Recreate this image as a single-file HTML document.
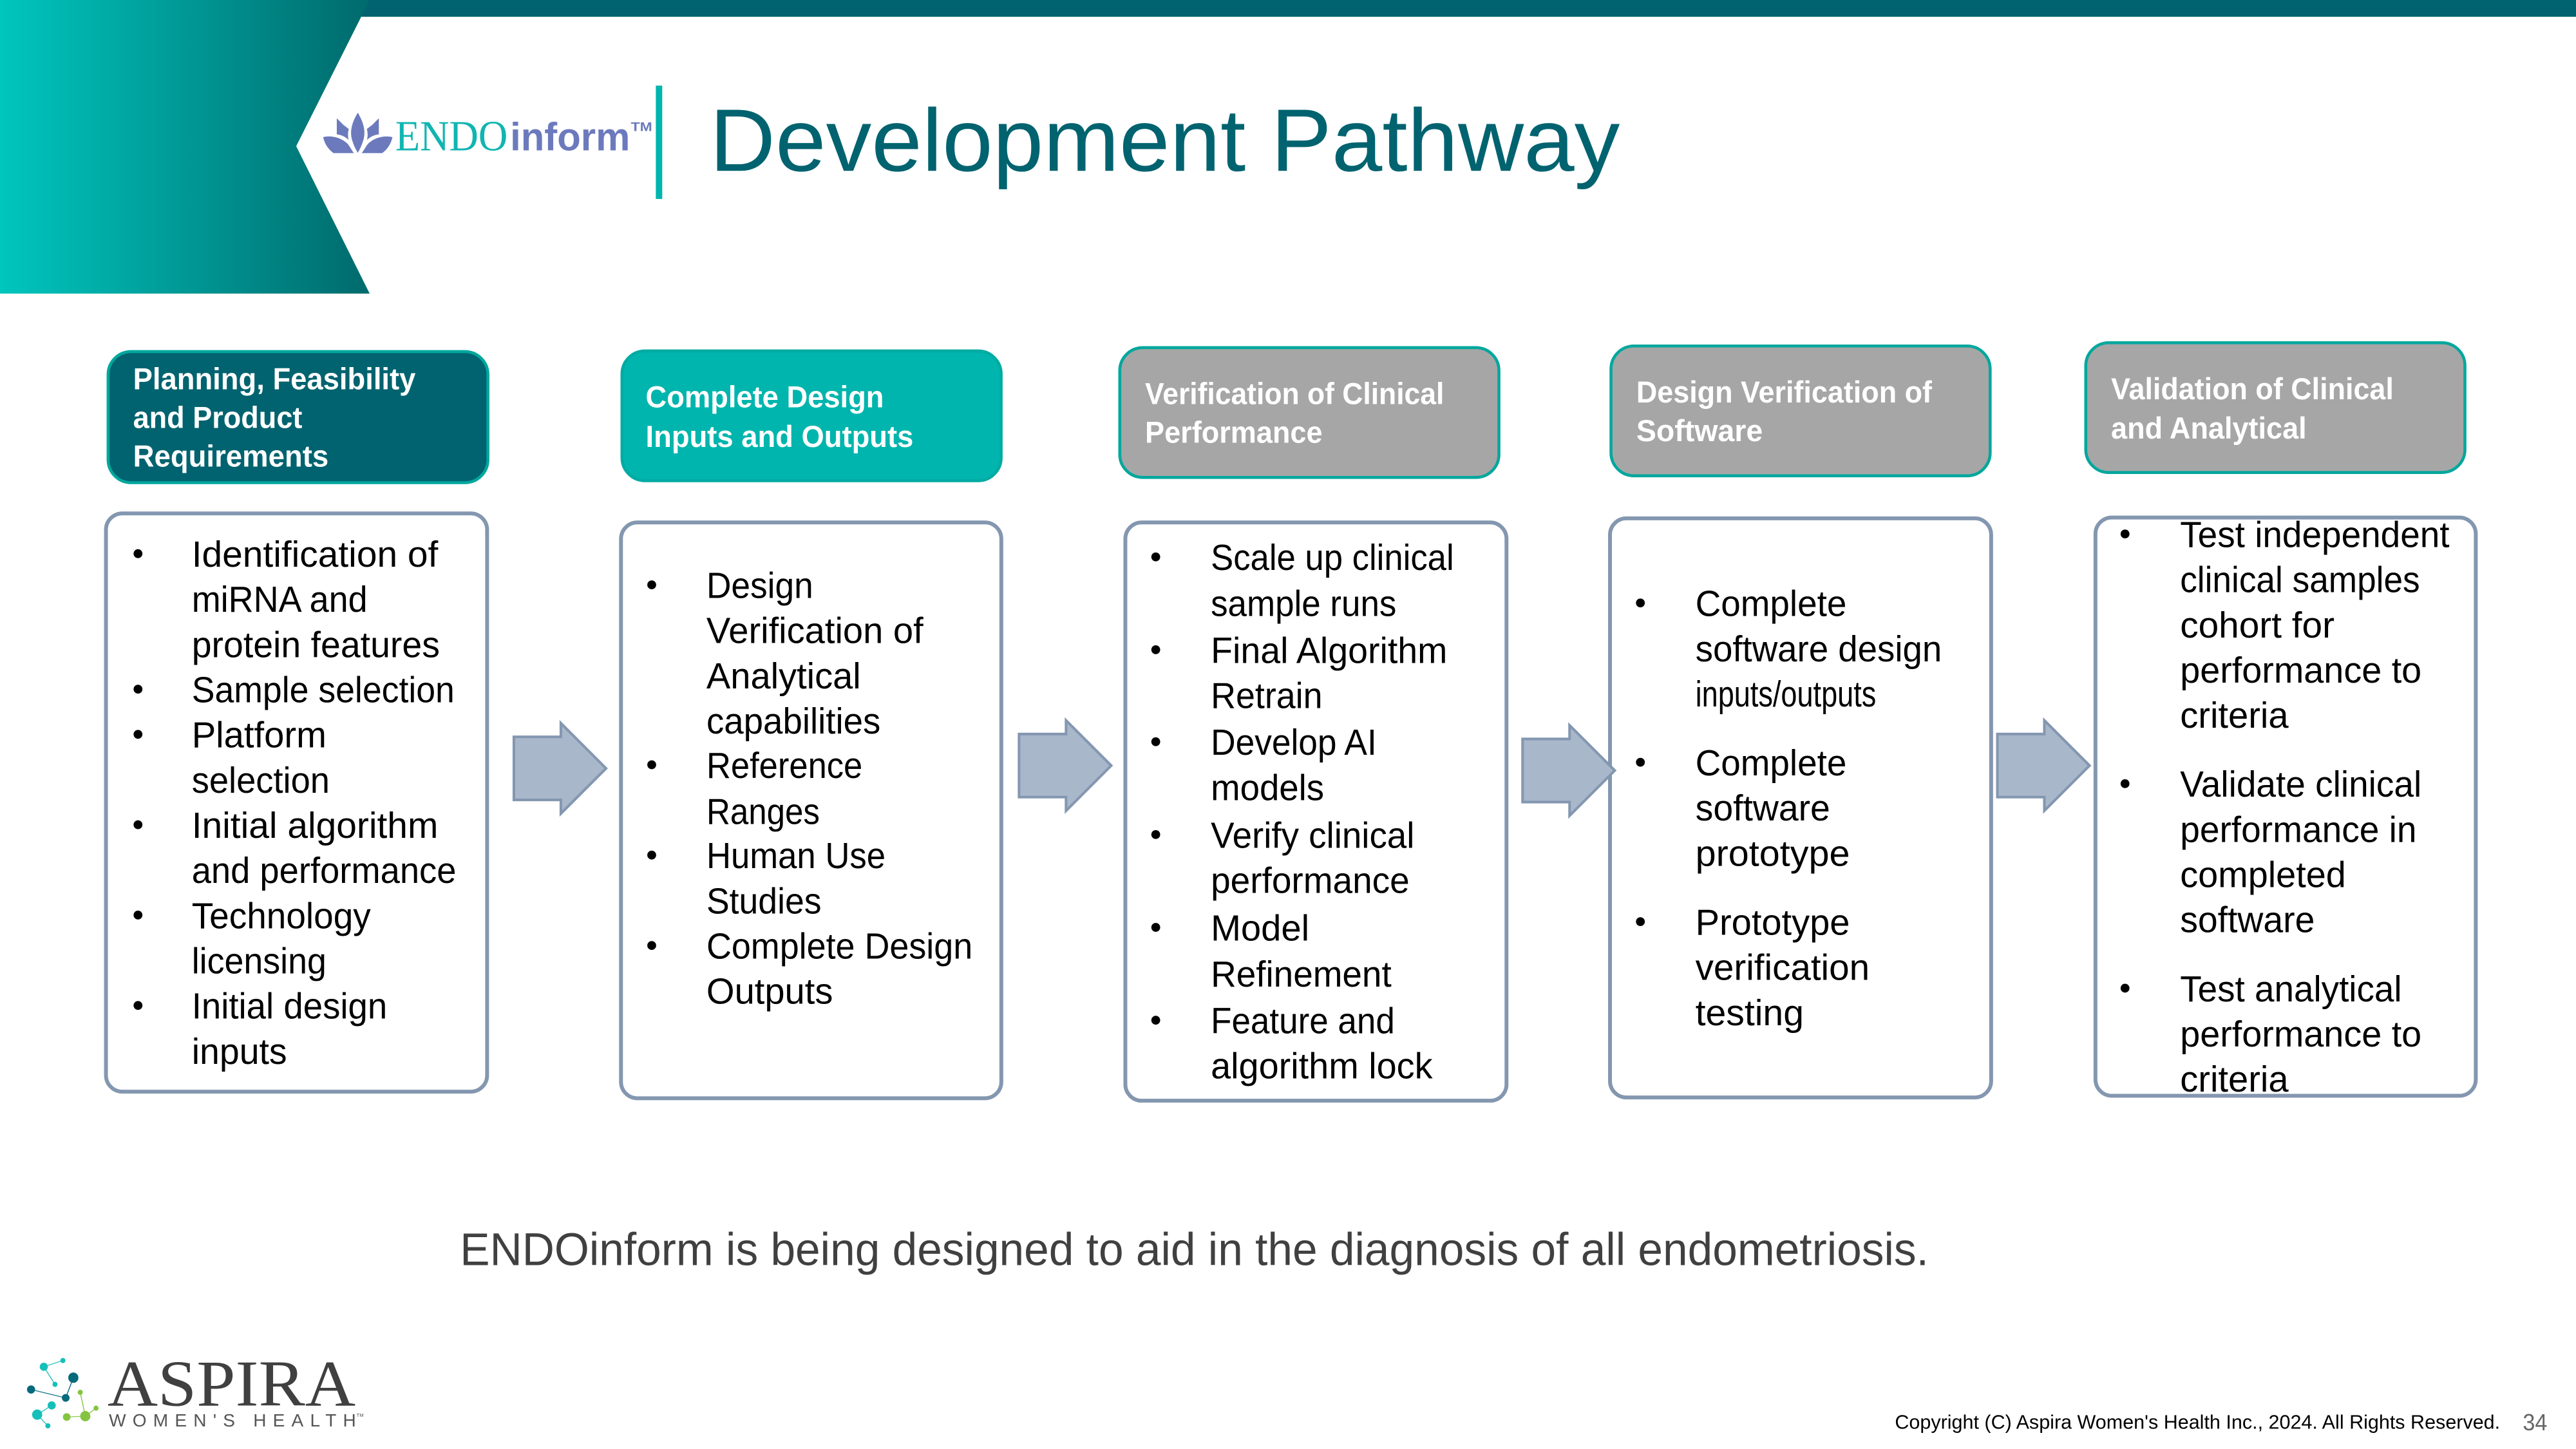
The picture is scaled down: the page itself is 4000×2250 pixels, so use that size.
<!DOCTYPE html>
<html lang="en"><head><meta charset="utf-8"><title>Development Pathway</title>
<style>
html,body{margin:0;padding:0;background:#fff;width:4000px;height:2250px;overflow:hidden}
svg{display:block}
text{font-family:"Liberation Sans",sans-serif}
.b text{font-size:22px;fill:#000}
.h text{font-size:18.5px;font-weight:bold;fill:#fff}
</style></head><body>
<svg width="4000" height="2250" viewBox="0 0 1568 882" xmlns="http://www.w3.org/2000/svg">
<defs>
<linearGradient id="w" x1="0" x2="1" y1="0" y2="0"><stop offset="0" stop-color="#00C6BE"/><stop offset="1" stop-color="#006A6C"/></linearGradient>
<g id="ar"><path d="M0 -19.2H28.6V-27.5L56.1 0L28.6 27.5V19.2H0Z" fill="#A9B7CB" stroke="#8497B0" stroke-width="1.6"/></g>
</defs>
<rect width="1568" height="882" fill="#fff"/>
<rect x="200" y="0" width="1368" height="10.2" fill="#00636F"/>
<polygon points="0,0 225,0 180.3,89 225,178.7 0,178.7" fill="url(#w)"/>

<!-- ENDOinform logo -->
<g fill="#6C7ABD">
<path d="M217.8 68.6C214.5 74 213 79 214 84C215 88 216.5 91 217.8 93C219 91 220.5 88 221.5 84C222.5 79 221 74 217.8 68.6Z"/>
<path d="M205 72L209 76L212.3 78.5C211.6 81 211.8 83.5 212.2 85.2C210.5 83.4 207.5 82 205 81.8Z"/>
<path d="M230.6 72L226.6 76L223.3 78.5C224 81 223.8 83.5 223.4 85.2C225.1 83.4 228.1 82 230.6 81.8Z"/>
<path d="M196.7 83.5C201 82.3 208 83.5 212 88C213.2 89.8 214.4 91.8 215.4 93.2H203C199.8 91 197.6 87.5 196.7 83.5Z"/>
<path d="M238.9 83.5C234.6 82.3 227.6 83.5 223.6 88C222.4 89.8 221.2 91.8 220.2 93.2H232.6C235.8 91 238 87.5 238.9 83.5Z"/>
</g>
<text x="240.6" y="91.5" textLength="68.4" lengthAdjust="spacingAndGlyphs" style="font-family:'Liberation Serif',serif;font-size:26px;fill:#0FB5B2">ENDO</text>
<text x="310.5" y="91.5" textLength="73" lengthAdjust="spacingAndGlyphs" style="font-size:24px;font-weight:bold;fill:#6C7ABD">inform</text>
<text x="384" y="79.7" textLength="13" lengthAdjust="spacingAndGlyphs" style="font-size:7.5px;font-weight:bold;fill:#6C7ABD">TM</text>
<rect x="399.2" y="52.1" width="3.9" height="69" fill="#00B5AD"/>
<text x="432" y="104" textLength="554" lengthAdjust="spacingAndGlyphs" style="font-size:54px;fill:#00636F">Development Pathway</text>

<!-- Headers -->
<g stroke-width="1.8">
<rect x="65.8" y="214" width="231.2" height="79.8" rx="14" fill="#00636F" stroke="#00A79D"/>
<rect x="378.6" y="213.6" width="230.8" height="79" rx="14" fill="#00B5AD" stroke="#00ABA3"/>
<rect x="681.6" y="211.6" width="230.8" height="79" rx="14" fill="#A6A6A6" stroke="#00A79D"/>
<rect x="980.6" y="210.6" width="230.8" height="79" rx="14" fill="#A6A6A6" stroke="#00A79D"/>
<rect x="1269.6" y="208.6" width="230.8" height="79" rx="14" fill="#A6A6A6" stroke="#00A79D"/>
</g>
<g class="h">
<text x="81" y="237" textLength="172" lengthAdjust="spacingAndGlyphs">Planning, Feasibility</text>
<text x="81" y="260.5" textLength="103" lengthAdjust="spacingAndGlyphs">and Product</text>
<text x="81" y="284" textLength="119" lengthAdjust="spacingAndGlyphs">Requirements</text>
<text x="393" y="248" textLength="145" lengthAdjust="spacingAndGlyphs">Complete Design</text>
<text x="393" y="272" textLength="163" lengthAdjust="spacingAndGlyphs">Inputs and Outputs</text>
<text x="697" y="246" textLength="182" lengthAdjust="spacingAndGlyphs">Verification of Clinical</text>
<text x="697" y="269.5" textLength="108" lengthAdjust="spacingAndGlyphs">Performance</text>
<text x="996" y="245" textLength="180" lengthAdjust="spacingAndGlyphs">Design Verification of</text>
<text x="996" y="268.5" textLength="77" lengthAdjust="spacingAndGlyphs">Software</text>
<text x="1285" y="243" textLength="172" lengthAdjust="spacingAndGlyphs">Validation of Clinical</text>
<text x="1285" y="267" textLength="119" lengthAdjust="spacingAndGlyphs">and Analytical</text>
</g>

<!-- Body boxes -->
<g fill="#fff" stroke="#8497B0" stroke-width="2.35">
<rect x="64.5" y="312.5" width="232" height="352" rx="10"/>
<rect x="378" y="318" width="231.5" height="350.5" rx="10"/>
<rect x="685" y="318" width="232" height="352" rx="10"/>
<rect x="980" y="315.5" width="232" height="352.5" rx="10"/>
<rect x="1275.5" y="315" width="231.5" height="352" rx="10"/>
</g>

<!-- Arrows -->
<use href="#ar" x="312.8" y="467.7"/>
<use href="#ar" x="620.3" y="466"/>
<use href="#ar" x="926.8" y="469"/>
<use href="#ar" x="1215.8" y="466"/>

<!-- Column 1 -->
<g class="b">
<circle cx="84" cy="337" r="2.7"/><text x="116.7" y="345" textLength="150" lengthAdjust="spacingAndGlyphs">Identification of</text>
<text x="116.7" y="372.5" textLength="107" lengthAdjust="spacingAndGlyphs">miRNA and</text>
<text x="116.7" y="400" textLength="151" lengthAdjust="spacingAndGlyphs">protein features</text>
<circle cx="84" cy="419.5" r="2.7"/><text x="116.7" y="427.5" textLength="160" lengthAdjust="spacingAndGlyphs">Sample selection</text>
<circle cx="84" cy="447" r="2.7"/><text x="116.7" y="455" textLength="82" lengthAdjust="spacingAndGlyphs">Platform</text>
<text x="116.7" y="482.5" textLength="84" lengthAdjust="spacingAndGlyphs">selection</text>
<circle cx="84" cy="502" r="2.7"/><text x="116.7" y="510" textLength="150" lengthAdjust="spacingAndGlyphs">Initial algorithm</text>
<text x="116.7" y="537.5" textLength="161" lengthAdjust="spacingAndGlyphs">and performance</text>
<circle cx="84" cy="557" r="2.7"/><text x="116.7" y="565" textLength="109" lengthAdjust="spacingAndGlyphs">Technology</text>
<text x="116.7" y="592.5" textLength="82" lengthAdjust="spacingAndGlyphs">licensing</text>
<circle cx="84" cy="612" r="2.7"/><text x="116.7" y="620" textLength="119" lengthAdjust="spacingAndGlyphs">Initial design</text>
<text x="116.7" y="647.5" textLength="58" lengthAdjust="spacingAndGlyphs">inputs</text>
</g>

<!-- Column 2 -->
<g class="b">
<circle cx="396.7" cy="356" r="2.7"/><text x="430" y="364" textLength="65" lengthAdjust="spacingAndGlyphs">Design</text>
<text x="430" y="391.5" textLength="132" lengthAdjust="spacingAndGlyphs">Verification of</text>
<text x="430" y="419" textLength="94" lengthAdjust="spacingAndGlyphs">Analytical</text>
<text x="430" y="446.5" textLength="106" lengthAdjust="spacingAndGlyphs">capabilities</text>
<circle cx="396.7" cy="465.5" r="2.7"/><text x="430" y="473.5" textLength="95" lengthAdjust="spacingAndGlyphs">Reference</text>
<text x="430" y="501.5" textLength="69" lengthAdjust="spacingAndGlyphs">Ranges</text>
<circle cx="396.7" cy="520.5" r="2.7"/><text x="430" y="528.5" textLength="109" lengthAdjust="spacingAndGlyphs">Human Use</text>
<text x="430" y="556" textLength="70" lengthAdjust="spacingAndGlyphs">Studies</text>
<circle cx="396.7" cy="575.5" r="2.7"/><text x="430" y="583.5" textLength="162" lengthAdjust="spacingAndGlyphs">Complete Design</text>
<text x="430" y="611" textLength="77" lengthAdjust="spacingAndGlyphs">Outputs</text>
</g>

<!-- Column 3 -->
<g class="b">
<circle cx="703.5" cy="339" r="2.7"/><text x="737" y="347" textLength="148" lengthAdjust="spacingAndGlyphs">Scale up clinical</text>
<text x="737" y="375" textLength="113" lengthAdjust="spacingAndGlyphs">sample runs</text>
<circle cx="703.5" cy="395.5" r="2.7"/><text x="737" y="403.5" textLength="144" lengthAdjust="spacingAndGlyphs">Final Algorithm</text>
<text x="737" y="431" textLength="68" lengthAdjust="spacingAndGlyphs">Retrain</text>
<circle cx="703.5" cy="451.5" r="2.7"/><text x="737" y="459.5" textLength="101" lengthAdjust="spacingAndGlyphs">Develop AI</text>
<text x="737" y="487" textLength="69" lengthAdjust="spacingAndGlyphs">models</text>
<circle cx="703.5" cy="508" r="2.7"/><text x="737" y="516" textLength="124" lengthAdjust="spacingAndGlyphs">Verify clinical</text>
<text x="737" y="543.5" textLength="121" lengthAdjust="spacingAndGlyphs">performance</text>
<circle cx="703.5" cy="564.5" r="2.7"/><text x="737" y="572.5" textLength="60" lengthAdjust="spacingAndGlyphs">Model</text>
<text x="737" y="600.5" textLength="110" lengthAdjust="spacingAndGlyphs">Refinement</text>
<circle cx="703.5" cy="621" r="2.7"/><text x="737" y="629" textLength="112" lengthAdjust="spacingAndGlyphs">Feature and</text>
<text x="737" y="656.5" textLength="135" lengthAdjust="spacingAndGlyphs">algorithm lock</text>
</g>

<!-- Column 4 -->
<g class="b">
<circle cx="998.5" cy="367" r="2.7"/><text x="1032" y="375" textLength="92" lengthAdjust="spacingAndGlyphs">Complete</text>
<text x="1032" y="402.5" textLength="150" lengthAdjust="spacingAndGlyphs">software design</text>
<text x="1032" y="430" textLength="110" lengthAdjust="spacingAndGlyphs">inputs/outputs</text>
<circle cx="998.5" cy="464" r="2.7"/><text x="1032" y="472" textLength="92" lengthAdjust="spacingAndGlyphs">Complete</text>
<text x="1032" y="499.5" textLength="82" lengthAdjust="spacingAndGlyphs">software</text>
<text x="1032" y="527" textLength="94" lengthAdjust="spacingAndGlyphs">prototype</text>
<circle cx="998.5" cy="561" r="2.7"/><text x="1032" y="569" textLength="94" lengthAdjust="spacingAndGlyphs">Prototype</text>
<text x="1032" y="596.5" textLength="106" lengthAdjust="spacingAndGlyphs">verification</text>
<text x="1032" y="624" textLength="66" lengthAdjust="spacingAndGlyphs">testing</text>
</g>

<!-- Column 5 -->
<g class="b">
<circle cx="1293.5" cy="325" r="2.7"/><text x="1327" y="333" textLength="164" lengthAdjust="spacingAndGlyphs">Test independent</text>
<text x="1327" y="360.5" textLength="146" lengthAdjust="spacingAndGlyphs">clinical samples</text>
<text x="1327" y="388" textLength="94" lengthAdjust="spacingAndGlyphs">cohort for</text>
<text x="1327" y="415.5" textLength="147" lengthAdjust="spacingAndGlyphs">performance to</text>
<text x="1327" y="443" textLength="66" lengthAdjust="spacingAndGlyphs">criteria</text>
<circle cx="1293.5" cy="477" r="2.7"/><text x="1327" y="485" textLength="147" lengthAdjust="spacingAndGlyphs">Validate clinical</text>
<text x="1327" y="512.5" textLength="144" lengthAdjust="spacingAndGlyphs">performance in</text>
<text x="1327" y="540" textLength="101" lengthAdjust="spacingAndGlyphs">completed</text>
<text x="1327" y="567.5" textLength="82" lengthAdjust="spacingAndGlyphs">software</text>
<circle cx="1293.5" cy="601.5" r="2.7"/><text x="1327" y="609.5" textLength="135" lengthAdjust="spacingAndGlyphs">Test analytical</text>
<text x="1327" y="637" textLength="147" lengthAdjust="spacingAndGlyphs">performance to</text>
<text x="1327" y="664.5" textLength="66" lengthAdjust="spacingAndGlyphs">criteria</text>
</g>

<text x="280" y="770" textLength="894" lengthAdjust="spacingAndGlyphs" style="font-size:28px;fill:#404040">ENDOinform is being designed to aid in the diagnosis of all endometriosis.</text>

<!-- Aspira logo -->
<g transform="translate(0,807.5) scale(0.155,0.1307)">
<g stroke-width="3.5" fill="none">
<path d="M172 187L247 158M172 187L216 269M203 367L146 410L188 462" stroke="#16BFB9"/>
<path d="M288 238L258 332L122 293" stroke="#046A7C"/>
<path d="M315 306L335 417L377 380M335 417L262 421" stroke="#84C441"/>
</g>
<g fill="#16BFB9"><ellipse cx="172" cy="187" rx="16" ry="19"/><ellipse cx="247" cy="158" rx="10" ry="12"/><ellipse cx="216" cy="269" rx="10" ry="12"/><ellipse cx="203" cy="367" rx="16" ry="19"/><ellipse cx="146" cy="410" rx="20" ry="24"/><ellipse cx="188" cy="462" rx="10" ry="12"/></g>
<g fill="#046A7C"><ellipse cx="288" cy="238" rx="20" ry="24"/><ellipse cx="122" cy="293" rx="16" ry="19"/><ellipse cx="258" cy="332" rx="15" ry="18"/></g>
<g fill="#84C441"><ellipse cx="315" cy="306" rx="10" ry="12"/><ellipse cx="377" cy="380" rx="10" ry="12"/><ellipse cx="335" cy="417" rx="20" ry="24"/><ellipse cx="262" cy="421" rx="15" ry="18"/></g>
</g>
<text x="65.4" y="855.6" textLength="151" lengthAdjust="spacingAndGlyphs" style="font-family:'Liberation Serif',serif;font-size:40px;fill:#404040">ASPIRA</text>
<text x="66.3" y="868.3" textLength="150.4" lengthAdjust="spacing" style="font-size:11px;fill:#555">WOMEN'S HEALTH</text>
<text x="217" y="862.5" style="font-size:3px;fill:#555">TM</text>

<text x="1153.4" y="869.6" textLength="368.4" lengthAdjust="spacingAndGlyphs" style="font-size:12px;fill:#000">Copyright (C) Aspira Women's Health Inc., 2024. All Rights Reserved.</text>
<text x="1535.6" y="870.6" textLength="14.9" lengthAdjust="spacingAndGlyphs" style="font-size:14px;fill:#666">34</text>
</svg>
</body></html>
